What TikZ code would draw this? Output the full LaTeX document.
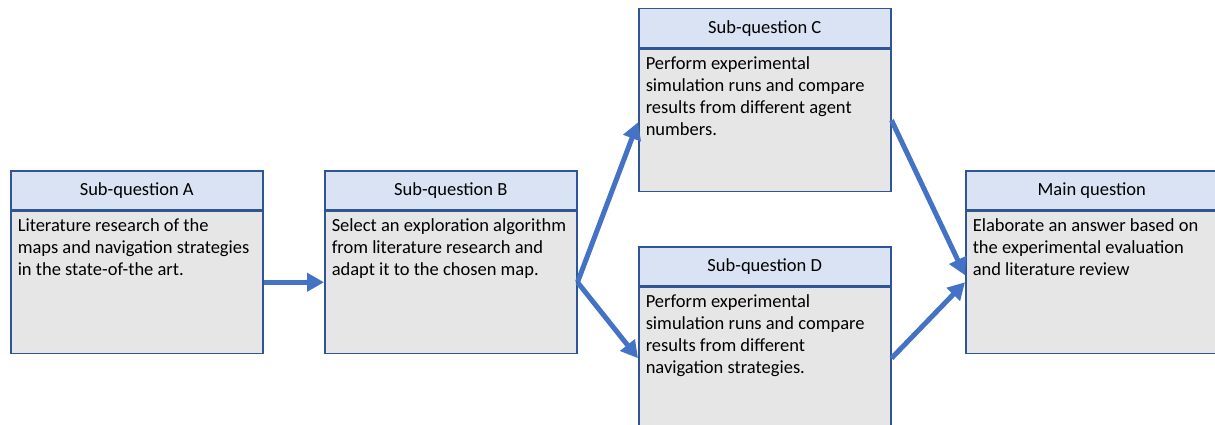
\documentclass[tikz,border=0pt]{standalone}
\usepackage{fontspec}
\setmainfont{Carlito}
\usetikzlibrary{arrows.meta}
\definecolor{boxedge}{HTML}{2F5597}
\definecolor{headfill}{HTML}{DAE3F3}
\definecolor{bodyfill}{HTML}{E6E6E6}
\definecolor{flow}{HTML}{4472C4}
\newcommand{\bodytext}[1]{\parbox[t][132pt][t]{238pt}{\raggedright\strut #1}}
\tikzset{
  head/.style={draw=boxedge, fill=headfill, line width=1.5pt,
    minimum width=252pt, minimum height=39pt, anchor=north west,
    inner sep=0pt, font=\fontsize{18.5}{22}\selectfont},
  body/.style={draw=boxedge, fill=bodyfill, line width=1.5pt,
    minimum width=252pt, minimum height=142pt, anchor=north west,
    inner xsep=7pt, inner ysep=5pt, font=\fontsize{18.5}{22}\selectfont},
  flowarrow/.style={draw=flow, line width=5pt,
    -{Triangle[length=17pt,width=18pt]}}
}
\begin{document}
\begin{tikzpicture}[x=1pt,y=-1pt]
\useasboundingbox (0,0) rectangle (1215,425);
% Sub-question A
\node[head] (ha) at (10,170) {Sub-question A};
\node[body] (ba) at (ha.south west) {\bodytext{Literature research of the\\maps and navigation strategies\\in the state-of-the art.}};
% Sub-question B
\node[head] (hb) at (324,170) {Sub-question B};
\node[body] (bb) at (hb.south west) {\bodytext{Select an exploration algorithm\\from literature research and\\adapt it to the chosen map.}};
% Sub-question C
\node[head] (hc) at (638,8) {Sub-question C};
\node[body] (bc) at (hc.south west) {\bodytext{Perform experimental\\simulation runs and compare\\results from different agent\\numbers.}};
% Sub-question D
\node[head] (hd) at (638,246) {Sub-question D};
\node[body] (bd) at (hd.south west) {\bodytext{Perform experimental\\simulation runs and compare\\results from different\\navigation strategies.}};
% Main question
\node[head] (hm) at (965,170) {Main question};
\node[body] (bm) at (hm.south west) {\bodytext{Elaborate an answer based on\\the experimental evaluation\\and literature review}};
% Flow between the questions
\draw[flowarrow] (ba.east) -- (bb.west);
\draw[flowarrow] (bb.east) -- ([yshift=-2pt]bc.west);
\draw[flowarrow] (bb.east) -- (bd.west);
\draw[flowarrow] (bc.east) -- ([yshift=7pt]bm.west);
\draw[flowarrow] (bd.east) -- (bm.west);
\end{tikzpicture}
\end{document}
